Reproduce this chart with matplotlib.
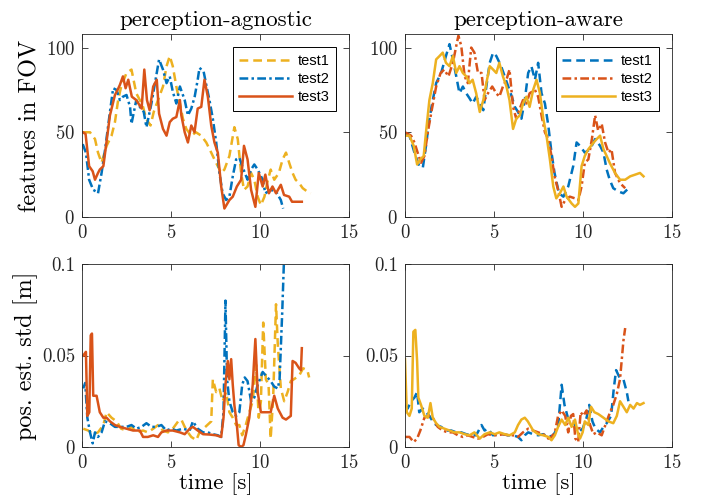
import numpy as np
import matplotlib
matplotlib.use("Agg")
import matplotlib.pyplot as plt

# warna default MATLAB
BIRU = "#0072BD"
ORANYE = "#D95319"
KUNING = "#EDB120"

# ---------------- data: features in FOV, perception-agnostic ----------------
ag_f_t1_t = [0.05, 0.45, 0.73, 0.9, 1.1, 1.38, 1.66, 1.85, 2.03, 2.2, 2.5, 2.78, 3.05, 3.25, 3.43, 3.6,
             3.85, 4.03, 4.27, 4.55, 4.75, 4.93, 5.1, 5.3, 5.5, 5.67, 5.86, 6.14, 6.4, 6.7, 6.98, 7.26,
             7.44, 7.63, 7.82, 8.0, 8.28, 8.56, 8.75, 8.94, 9.1, 9.3, 9.5, 9.68, 9.87, 10.05, 10.25,
             10.4, 10.6, 10.8, 11.06, 11.27, 11.46, 11.64, 11.83, 12.0, 12.2, 12.4, 12.66, 12.85]
ag_f_t1_y = [50, 50, 46, 38, 32, 42, 48, 56, 69, 77, 85, 87, 73, 69, 65, 58,
             54, 62, 69, 77, 89, 95, 89, 77, 67, 58, 52, 48, 50, 48, 44, 38,
             34, 30, 26, 28, 36, 53, 46, 26, 16, 18, 26, 22, 12, 7, 12,
             20, 28, 22, 26, 34, 38, 32, 26, 22, 20, 17, 15, 14]

ag_f_t2_t = [0.04, 0.22, 0.4, 0.63, 0.8, 0.9, 1.1, 1.3, 1.57, 1.75, 1.94, 2.13, 2.3, 2.5, 2.7, 2.78,
             3.05, 3.25, 3.47, 3.62, 3.9, 4.1, 4.33, 4.55, 4.75, 4.93, 5.1, 5.3, 5.5, 5.77, 5.95,
             6.14, 6.33, 6.5, 6.6, 6.83, 7.0, 7.16, 7.35, 7.54, 7.72, 7.9, 8.1, 8.28, 8.47, 8.66,
             8.84, 9.0, 9.3, 9.5, 9.68, 9.87, 10.15, 10.3, 10.6, 10.9, 11.17, 11.3]
ag_f_t2_y = [43, 38, 22, 16, 15, 14, 26, 40, 62, 76, 75, 69, 71, 72, 65, 55,
             69, 65, 62, 53, 67, 79, 93, 87, 79, 83, 74, 67, 77, 69, 60,
             64, 71, 81, 88, 86, 77, 69, 58, 44, 26, 14, 10, 12, 24, 34,
             35, 30, 22, 28, 31, 28, 22, 14, 16, 15, 10, 5]

ag_f_t3_t = [0.05, 0.2, 0.4, 0.6, 0.73, 0.9, 1.0, 1.2, 1.57, 1.85, 2.0, 2.13, 2.3, 2.45, 2.6, 2.8,
             3.05, 3.35, 3.5, 3.65, 3.8, 4.0, 4.2, 4.33, 4.55, 4.75, 4.93, 5.1, 5.3, 5.5, 5.58,
             5.77, 5.95, 6.14, 6.32, 6.5, 6.7, 6.88, 7.07, 7.26, 7.44, 7.63, 7.82, 8.0, 8.28, 8.47,
             8.7, 8.94, 9.1, 9.3, 9.5, 9.74, 9.93, 10.15, 10.3, 10.5, 10.7, 10.9, 11.17, 11.35,
             11.64, 11.8, 12.2, 12.35]
ag_f_t3_y = [50, 49, 30, 27, 22, 26, 28, 30, 60, 72, 75, 78, 83, 76, 81, 71,
             69, 64, 87, 69, 63, 77, 81, 61, 52, 48, 56, 58, 59, 69, 60,
             50, 44, 54, 50, 64, 65, 81, 71, 54, 44, 38, 18, 5, 10, 12,
             18, 22, 42, 34, 16, 6, 26, 18, 25, 14, 18, 14, 19, 13,
             12, 9, 9, 9]

# ---------------- data: features in FOV, perception-aware ----------------
aw_f_t1_t = [0.0, 0.25, 0.53, 0.8, 1.0, 1.18, 1.37, 1.56, 1.75, 2.03, 2.3, 2.5, 2.69, 2.88, 3.06,
             3.25, 3.44, 3.63, 3.8, 4.0, 4.2, 4.4, 4.57, 4.76, 4.95, 5.13, 5.4, 5.6, 5.8, 6.0,
             6.17, 6.35, 6.54, 6.73, 6.92, 7.1, 7.3, 7.48, 7.67, 7.86, 8.05, 8.23, 8.4, 8.65,
             8.9, 9.17, 9.45, 9.64, 9.83, 10.1, 10.4, 10.68, 10.96, 11.15, 11.33, 11.5, 11.7,
             12.0, 12.27, 12.56]
aw_f_t1_y = [49, 48, 38, 30, 29, 42, 58, 69, 79, 85, 95, 102, 93, 83, 73,
             77, 73, 70, 67, 71, 67, 63, 77, 91, 97, 95, 89, 83, 77, 71,
             65, 62, 58, 69, 85, 89, 81, 91, 73, 67, 54, 38, 26, 14,
             12, 18, 30, 44, 42, 38, 40, 46, 42, 38, 28, 22, 17,
             15, 14, 17]

aw_f_t2_t = [0.0, 0.34, 0.53, 0.71, 0.9, 1.09, 1.28, 1.5, 1.75, 2.0, 2.2, 2.44, 2.69, 2.88, 3.0,
             3.16, 3.35, 3.53, 3.72, 3.9, 4.1, 4.3, 4.47, 4.66, 4.9, 5.13, 5.3, 5.5, 5.7, 5.87,
             6.07, 6.25, 6.45, 6.63, 6.82, 7.0, 7.3, 7.48, 7.67, 7.86, 8.05, 8.23, 8.4, 8.6,
             8.8, 9.0, 9.26, 9.55, 9.74, 9.92, 10.1, 10.3, 10.5, 10.68, 10.85, 11.05, 11.24,
             11.43, 11.6, 11.8, 12.08, 12.37]
aw_f_t2_y = [50, 48, 44, 38, 32, 36, 50, 63, 77, 85, 87, 83, 91, 101, 107,
             101, 83, 79, 100, 97, 85, 85, 69, 73, 77, 73, 71, 77, 81, 87,
             65, 58, 64, 69, 67, 73, 75, 71, 60, 50, 46, 36, 24, 16,
             6, 10, 12, 11, 10, 18, 32, 34, 46, 60, 51, 55, 44,
             38, 40, 26, 20, 17]

aw_f_t3_t = [0.0, 0.25, 0.49, 0.68, 0.86, 1.05, 1.18, 1.37, 1.56, 1.75, 1.94, 2.12, 2.3, 2.5, 2.69,
             2.88, 3.06, 3.25, 3.44, 3.63, 3.8, 4.0, 4.2, 4.4, 4.57, 4.76, 4.95, 5.13, 5.3, 5.5,
             5.7, 5.87, 6.07, 6.25, 6.45, 6.63, 6.82, 7.0, 7.2, 7.39, 7.58, 7.77, 7.95, 8.14,
             8.33, 8.5, 8.7, 8.9, 9.08, 9.36, 9.55, 9.74, 9.92, 10.1, 10.3, 10.6, 10.77, 10.96,
             11.15, 11.33, 11.5, 11.8, 12.08, 12.37, 12.65, 12.93, 13.2, 13.4]
aw_f_t3_y = [48, 48, 42, 31, 34, 36, 50, 69, 79, 93, 95, 97, 91, 89, 95,
             85, 89, 85, 83, 79, 81, 73, 62, 69, 79, 89, 87, 85, 91, 83,
             77, 69, 52, 58, 60, 67, 71, 65, 75, 81, 73, 58, 48, 34,
             18, 11, 14, 18, 12, 8, 6, 8, 30, 36, 40, 44, 46, 48,
             40, 36, 32, 26, 22, 22, 24, 25, 26, 24]

# ---------------- data: pos. est. std, perception-agnostic ----------------
ag_s_t1_t = [0.07, 0.35, 0.63, 0.9, 1.2, 1.38, 1.66, 1.94, 2.2, 2.5, 2.78, 3.06, 3.43, 3.7, 4.0,
             4.27, 4.55, 4.83, 5.1, 5.4, 5.58, 5.77, 5.95, 6.14, 6.42, 6.6, 7.26, 7.35, 7.54,
             7.72, 7.9, 8.1, 8.28, 8.47, 8.66, 8.84, 9.0, 9.2, 9.4, 9.59, 9.78, 9.93, 10.05,
             10.18, 10.33, 10.48, 10.6, 10.74, 10.9, 11.0, 11.17, 11.36, 11.55, 11.73, 11.9,
             12.2, 12.42, 12.66, 12.76]
ag_s_t1_y = [0.010, 0.009, 0.007, 0.008, 0.012, 0.019, 0.016, 0.014, 0.010, 0.009, 0.011, 0.008,
             0.009, 0.008, 0.010, 0.012, 0.009, 0.008, 0.010, 0.014, 0.015, 0.011, 0.008, 0.0055,
             0.0037, 0.008, 0.014, 0.037, 0.030, 0.032, 0.025, 0.030, 0.019, 0.016, 0.012, 0.012,
             0.0064, 0.012, 0.019, 0.025, 0.045, 0.016, 0.025, 0.068, 0.037, 0.034, 0.0046, 0.027,
             0.078, 0.056, 0.032, 0.025, 0.030, 0.036, 0.037, 0.039, 0.043, 0.042, 0.038]

ag_s_t2_t = [0.07, 0.18, 0.3, 0.45, 0.6, 0.73, 0.9, 1.1, 1.29, 1.57, 1.85, 2.13, 2.5, 2.78, 3.06,
             3.34, 3.62, 3.9, 4.18, 4.46, 4.74, 5.0, 5.3, 5.67, 6.05, 6.23, 6.5, 6.8, 7.07, 7.35,
             7.63, 7.82, 7.95, 8.06, 8.15, 8.28, 8.47, 8.66, 8.84, 9.0, 9.14, 9.3, 9.5, 9.68,
             9.87, 10.15, 10.33, 10.6, 10.8, 11.0, 11.1, 11.25, 11.34]
ag_s_t2_y = [0.032, 0.035, 0.016, 0.008, 0.002, 0.008, 0.0055, 0.008, 0.014, 0.013, 0.011, 0.011,
             0.011, 0.012, 0.010, 0.011, 0.013, 0.011, 0.011, 0.012, 0.009, 0.010, 0.009, 0.010,
             0.009, 0.014, 0.010, 0.008, 0.008, 0.007, 0.0064, 0.0055, 0.019, 0.080, 0.037, 0.025,
             0.019, 0.017, 0.019, 0.034, 0.038, 0.036, 0.025, 0.027, 0.034, 0.041, 0.039, 0.036,
             0.033, 0.032, 0.037, 0.074, 0.100]

ag_s_t3_t = [0.07, 0.22, 0.3, 0.41, 0.49, 0.56, 0.63, 0.82, 1.0, 1.2, 1.38, 1.57, 1.85, 2.13, 2.5,
             2.87, 3.25, 3.43, 3.7, 4.0, 4.27, 4.46, 4.74, 5.1, 5.5, 5.77, 6.05, 6.23, 6.5, 6.8,
             7.16, 7.54, 7.82, 7.95, 8.06, 8.19, 8.28, 8.38, 8.47, 8.56, 8.7, 8.8, 8.94, 9.07,
             9.2, 9.4, 9.59, 9.74, 9.87, 10.05, 10.33, 10.6, 10.8, 11.0, 11.27, 11.46, 11.73,
             11.83, 12.0, 12.2, 12.3, 12.35]
ag_s_t3_y = [0.050, 0.052, 0.017, 0.019, 0.061, 0.062, 0.028, 0.028, 0.019, 0.016, 0.016, 0.014,
             0.012, 0.011, 0.010, 0.009, 0.009, 0.0055, 0.0055, 0.0064, 0.0055, 0.008, 0.009,
             0.009, 0.008, 0.007, 0.010, 0.011, 0.009, 0.007, 0.0068, 0.0064, 0.0055, 0.016,
             0.034, 0.047, 0.037, 0.048, 0.034, 0.023, 0.012, 0.001, 0.0, 0.001, 0.0064, 0.016,
             0.034, 0.059, 0.030, 0.019, 0.019, 0.019, 0.028, 0.021, 0.016, 0.015, 0.017, 0.047,
             0.046, 0.043, 0.042, 0.054]

# ---------------- data: pos. est. std, perception-aware ----------------
aw_s_t1_t = [0.0, 0.15, 0.34, 0.53, 0.68, 0.8, 1.0, 1.18, 1.37, 1.56, 1.75, 2.03, 2.3, 2.6, 2.88,
             3.16, 3.44, 3.72, 4.0, 4.3, 4.47, 4.66, 4.94, 5.22, 5.5, 5.8, 6.07, 6.35, 6.54, 6.73,
             6.92, 7.2, 7.48, 7.77, 8.05, 8.33, 8.6, 8.8, 8.96, 9.15, 9.36, 9.55, 9.74, 9.98,
             10.2, 10.35, 10.53, 10.7, 10.96, 11.15, 11.33, 11.58, 11.73, 11.86, 12.05, 12.27,
             12.46, 12.55]
aw_s_t1_y = [0.023, 0.021, 0.025, 0.027, 0.030, 0.019, 0.021, 0.019, 0.017, 0.014, 0.012, 0.011,
             0.009, 0.009, 0.008, 0.008, 0.007, 0.0064, 0.0064, 0.012, 0.009, 0.010, 0.0064,
             0.007, 0.007, 0.0064, 0.0064, 0.0055, 0.0037, 0.0064, 0.008, 0.007, 0.0064, 0.007,
             0.0055, 0.0064, 0.011, 0.034, 0.023, 0.016, 0.014, 0.012, 0.008, 0.010, 0.016,
             0.023, 0.014, 0.010, 0.008, 0.011, 0.013, 0.017, 0.032, 0.042, 0.038, 0.037, 0.030,
             0.025]

aw_s_t2_t = [0.0, 0.25, 0.49, 0.68, 0.86, 1.09, 1.3, 1.56, 1.84, 2.12, 2.4, 2.69, 2.97, 3.25,
             3.53, 3.8, 4.1, 4.38, 4.66, 4.94, 5.22, 5.5, 5.8, 6.07, 6.35, 6.63, 6.92, 7.2, 7.48,
             7.77, 8.05, 8.23, 8.42, 8.6, 8.8, 9.0, 9.17, 9.32, 9.45, 9.57, 9.73, 9.87, 10.02,
             10.2, 10.4, 10.58, 10.77, 11.05, 11.33, 11.52, 11.7, 11.9, 12.08, 12.18, 12.27, 12.37]
aw_s_t2_y = [0.0055, 0.0055, 0.0027, 0.0046, 0.009, 0.016, 0.017, 0.016, 0.011, 0.009, 0.008,
             0.008, 0.0064, 0.0055, 0.0064, 0.0055, 0.0046, 0.0055, 0.007, 0.0064, 0.0064, 0.007,
             0.0064, 0.0064, 0.0055, 0.008, 0.010, 0.009, 0.008, 0.007, 0.0046, 0.0055, 0.008,
             0.017, 0.020, 0.017, 0.008, 0.017, 0.018, 0.0046, 0.0027, 0.019, 0.017, 0.020, 0.012,
             0.007, 0.008, 0.0064, 0.014, 0.019, 0.023, 0.029, 0.037, 0.048, 0.058, 0.065]

aw_s_t3_t = [0.0, 0.1, 0.25, 0.38, 0.47, 0.58, 0.68, 0.75, 0.9, 1.09, 1.28, 1.43, 1.56, 1.75, 1.94,
             2.22, 2.5, 2.78, 3.06, 3.35, 3.63, 3.9, 4.2, 4.47, 4.76, 5.04, 5.3, 5.6, 5.88, 6.17,
             6.35, 6.54, 6.73, 6.9, 7.2, 7.48, 7.77, 8.05, 8.23, 8.42, 8.6, 8.8, 9.0, 9.17, 9.36,
             9.55, 9.7, 9.83, 9.98, 10.1, 10.3, 10.45, 10.64, 10.86, 11.15, 11.43, 11.7, 11.9,
             12.08, 12.27, 12.46, 12.65, 12.84, 13.03, 13.2, 13.4]
aw_s_t3_y = [0.048, 0.019, 0.017, 0.021, 0.063, 0.064, 0.047, 0.027, 0.023, 0.017, 0.016, 0.024,
             0.016, 0.013, 0.011, 0.010, 0.009, 0.008, 0.008, 0.007, 0.0064, 0.008, 0.0046, 0.007,
             0.008, 0.007, 0.008, 0.007, 0.0064, 0.008, 0.012, 0.015, 0.016, 0.014, 0.009, 0.007,
             0.0064, 0.0055, 0.0037, 0.0064, 0.011, 0.015, 0.012, 0.016, 0.011, 0.015, 0.008,
             0.0046, 0.008, 0.014, 0.012, 0.022, 0.019, 0.018, 0.016, 0.014, 0.013, 0.017, 0.025,
             0.022, 0.019, 0.023, 0.021, 0.024, 0.023, 0.024]

judul = ["perception-agnostic", "perception-aware"]
label_tes = ["test1", "test2", "test3"]
x_ticks = [0, 5, 10, 15]
y_ticks_f = [0, 50, 100]
y_ticks_s = [0, 0.05, 0.1]
y_ticklabels_s = ["0", "0.05", "0.1"]

plt.rcParams["font.family"] = "cmr10"
plt.rcParams["axes.formatter.use_mathtext"] = True
plt.rcParams["mathtext.fontset"] = "cm"

gaya = {
    "solid": "-",
    "dash": (0, (3.5, 2.0)),
    "dashdot": (0, (3.5, 1.3, 1.0, 1.3)),
}

fig = plt.figure(figsize=(7.09, 5.04), dpi=100)
kiri = [82 / 709, 405 / 709]
lebar = 267 / 709
tinggi = 183 / 504
bawah = [1 - 217 / 504, 1 - 447 / 504]

axes = [[fig.add_axes([kiri[c], bawah[r], lebar, tinggi]) for c in range(2)] for r in range(2)]

# (data x, data y, warna, gaya) per panel
panel = {
    (0, 0): [(ag_f_t1_t, ag_f_t1_y, KUNING, "dash"), (ag_f_t2_t, ag_f_t2_y, BIRU, "dashdot"),
             (ag_f_t3_t, ag_f_t3_y, ORANYE, "solid")],
    (0, 1): [(aw_f_t1_t, aw_f_t1_y, BIRU, "dash"), (aw_f_t2_t, aw_f_t2_y, ORANYE, "dashdot"),
             (aw_f_t3_t, aw_f_t3_y, KUNING, "solid")],
    (1, 0): [(ag_s_t1_t, ag_s_t1_y, KUNING, "dash"), (ag_s_t2_t, ag_s_t2_y, BIRU, "dashdot"),
             (ag_s_t3_t, ag_s_t3_y, ORANYE, "solid")],
    (1, 1): [(aw_s_t1_t, aw_s_t1_y, BIRU, "dash"), (aw_s_t2_t, aw_s_t2_y, ORANYE, "dashdot"),
             (aw_s_t3_t, aw_s_t3_y, KUNING, "solid")],
}

for (r, c), seri in panel.items():
    ax = axes[r][c]
    for (tx, ty, warna, g), nama in zip(seri, label_tes):
        ax.plot(tx, ty, color=warna, linestyle=gaya[g], linewidth=1.8, label=nama)
    ax.set_xlim(0, 15)
    ax.set_xticks(x_ticks)
    if r == 0:
        ax.set_ylim(0, 108)
        ax.set_yticks(y_ticks_f)
        ax.set_title(judul[c], fontsize=16.5, pad=6)
        leg = ax.legend(loc="upper right", fancybox=False, framealpha=1, edgecolor="black",
                        prop={"family": "Liberation Sans", "size": 10.5}, handlelength=3.6,
                        borderaxespad=0.9, labelspacing=0.3, borderpad=0.45, handletextpad=0.4)
        leg.get_frame().set_linewidth(0.7)
    else:
        ax.set_ylim(0, 0.1)
        ax.set_yticks(y_ticks_s)
        ax.set_yticklabels(y_ticklabels_s)
        ax.set_xlabel("time [s]", fontsize=16.5, labelpad=1)
    ax.tick_params(direction="in", top=True, right=True, length=4, width=0.6,
                   labelsize=13.5, colors="#262626", pad=5)
    for sp in ax.spines.values():
        sp.set_color("#262626")
        sp.set_linewidth(0.6)

axes[0][0].set_ylabel("features in FOV", fontsize=17.5, labelpad=3)
axes[1][0].set_ylabel("pos. est. std [m]", fontsize=17.5, labelpad=3)

fig.savefig("out.png", dpi=100)
